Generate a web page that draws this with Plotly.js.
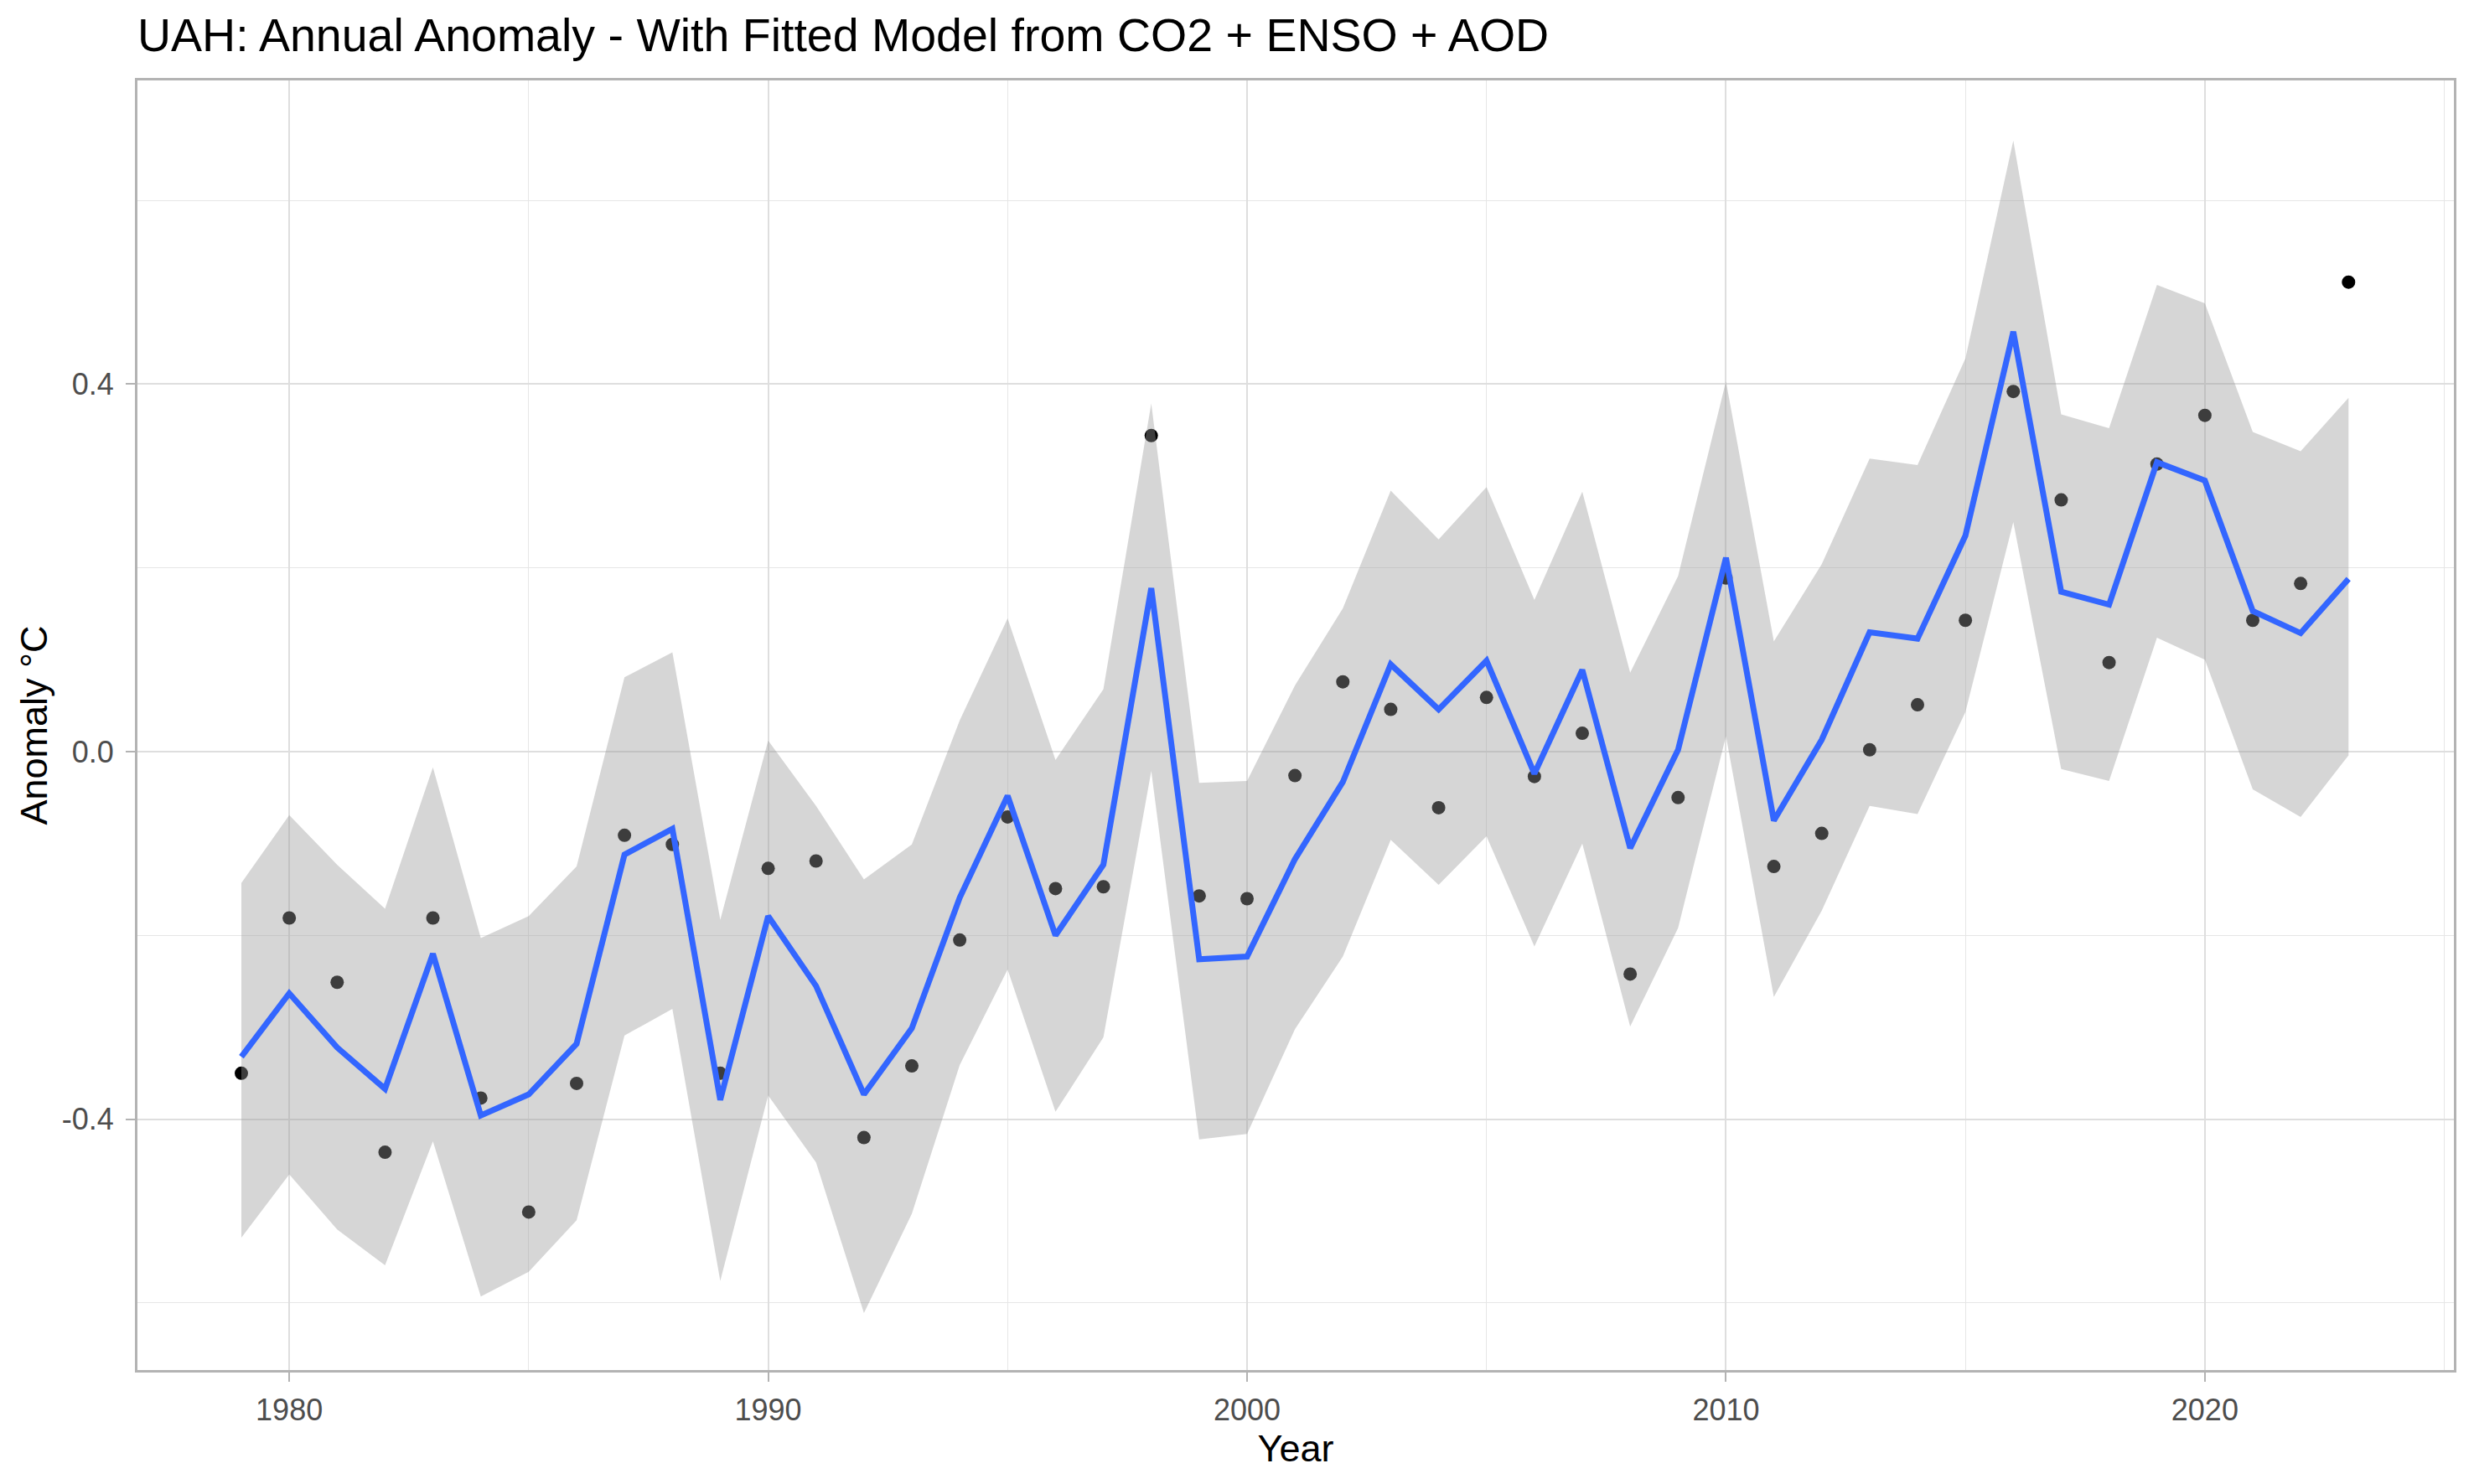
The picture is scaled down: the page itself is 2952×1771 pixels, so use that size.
<!DOCTYPE html>
<html>
<head>
<meta charset="utf-8">
<script src="https://cdn.plot.ly/plotly-3.0.1.min.js"></script>
<style>
html,body{margin:0;padding:0;background:#fff;}
#chart{width:2952px;height:1771px;}
</style>
</head>
<body>
<div id="chart"></div>
<script>
const years = [1979,1980,1981,1982,1983,1984,1985,1986,1987,1988,1989,1990,1991,1992,1993,1994,1995,1996,1997,1998,1999,2000,2001,2002,2003,2004,2005,2006,2007,2008,2009,2010,2011,2012,2013,2014,2015,2016,2017,2018,2019,2020,2021,2022,2023];

const observed = [-0.350,-0.181,-0.251,-0.436,-0.181,-0.377,-0.501,-0.361,-0.091,-0.101,
  -0.350,-0.127,-0.119,-0.420,-0.342,-0.205,-0.071,-0.149,-0.147,0.344,
  -0.157,-0.160,-0.026,0.076,0.046,-0.061,0.059,-0.027,0.020,-0.242,
  -0.050,0.189,-0.125,-0.089,0.002,0.051,0.143,0.392,0.274,0.097,
  0.313,0.366,0.143,0.183,0.511];

const fitted = [-0.332,-0.263,-0.322,-0.367,-0.220,-0.396,-0.373,-0.318,-0.112,-0.084,
  -0.379,-0.179,-0.255,-0.373,-0.301,-0.159,-0.048,-0.200,-0.123,0.178,
  -0.226,-0.223,-0.117,-0.033,0.095,0.046,0.099,-0.024,0.089,-0.105,
  0.002,0.211,-0.075,0.013,0.130,0.123,0.235,0.457,0.174,0.160,
  0.315,0.295,0.153,0.129,0.188];

const upper = [-0.143,-0.069,-0.123,-0.171,-0.017,-0.203,-0.179,-0.125,0.081,0.108,
  -0.183,0.012,-0.059,-0.139,-0.101,0.034,0.145,-0.009,0.068,0.379,
  -0.034,-0.032,0.072,0.156,0.284,0.231,0.288,0.165,0.283,0.086,
  0.191,0.403,0.120,0.204,0.319,0.312,0.428,0.665,0.367,0.352,
  0.508,0.488,0.348,0.327,0.385];

const lower = [-0.529,-0.460,-0.520,-0.559,-0.424,-0.593,-0.566,-0.510,-0.309,-0.280,
  -0.576,-0.374,-0.447,-0.611,-0.503,-0.341,-0.237,-0.392,-0.311,-0.021,
  -0.422,-0.416,-0.302,-0.223,-0.096,-0.145,-0.092,-0.212,-0.100,-0.299,
  -0.192,0.017,-0.267,-0.173,-0.059,-0.068,0.043,0.250,-0.019,-0.032,
  0.124,0.100,-0.041,-0.071,-0.004];

const xTickVals = [1980,1990,2000,2010,2020];
const xTickText = ["1980","1990","2000","2010","2020"];
const xMinorVals = [1975,1985,1995,2005,2015,2025];
const yTickVals = [-0.4,0.0,0.4];
const yTickText = ["-0.4","0.0","0.4"];
const yMinorVals = [-0.6,-0.2,0.2,0.6];

const FONT = "Liberation Sans, Arial, Helvetica, sans-serif";

const traces = [
  {
    x: years, y: observed, type: 'scatter', mode: 'markers',
    marker: {color: '#000000', size: 16, line: {width: 0}},
    hoverinfo: 'x+y', showlegend: false
  },
  {
    x: years, y: lower, type: 'scatter', mode: 'lines',
    line: {width: 0, color: 'rgba(0,0,0,0)'},
    hoverinfo: 'skip', showlegend: false
  },
  {
    x: years, y: upper, type: 'scatter', mode: 'lines',
    line: {width: 0, color: 'rgba(0,0,0,0)'},
    fill: 'tonexty', fillcolor: 'rgba(153,153,153,0.4)',
    hoverinfo: 'skip', showlegend: false
  },
  {
    x: years, y: fitted, type: 'scatter', mode: 'lines',
    line: {color: '#3366FF', width: 7},
    hoverinfo: 'x+y', showlegend: false
  }
];

const layout = {
  width: 2952, height: 1771,
  paper_bgcolor: '#FFFFFF', plot_bgcolor: '#FFFFFF',
  margin: {l: 164, r: 24, t: 96, b: 136, pad: 0},
  font: {family: FONT, color: '#000000'},
  showlegend: false,
  title: {
    text: 'UAH: Annual Anomaly - With Fitted Model from CO2 + ENSO + AOD',
    font: {family: FONT, size: 55.5, color: '#000000'},
    x: 164/2952, xref: 'container', xanchor: 'left',
    y: 1 - 42/1771, yref: 'container', yanchor: 'middle'
  },
  xaxis: {
    range: [1976.83, 2025.2],
    tickmode: 'array', tickvals: xTickVals, ticktext: xTickText,
    ticks: 'outside', ticklen: 11, tickwidth: 2, tickcolor: '#B3B3B3',
    tickfont: {family: FONT, size: 36, color: '#4D4D4D'},
    ticklabelstandoff: 3,
    showgrid: true, gridcolor: '#DEDEDE', gridwidth: 2,
    minor: {tickmode: 'array', tickvals: xMinorVals, showgrid: true, gridcolor: '#E6E6E6', gridwidth: 1, ticks: ''},
    zeroline: false,
    showline: true, linecolor: '#B3B3B3', linewidth: 3, mirror: true,
    title: {text: 'Year', font: {family: FONT, size: 45, color: '#000000'}, standoff: 4}
  },
  yaxis: {
    range: [-0.673, 0.7305],
    tickmode: 'array', tickvals: yTickVals, ticktext: yTickText,
    ticks: 'outside', ticklen: 11, tickwidth: 2, tickcolor: '#B3B3B3',
    tickfont: {family: FONT, size: 36, color: '#4D4D4D'},
    ticklabelstandoff: 7,
    showgrid: true, gridcolor: '#DEDEDE', gridwidth: 2,
    minor: {tickmode: 'array', tickvals: yMinorVals, showgrid: true, gridcolor: '#E6E6E6', gridwidth: 1, ticks: ''},
    zeroline: false,
    showline: true, linecolor: '#B3B3B3', linewidth: 3, mirror: true,
    title: {text: 'Anomaly °C', font: {family: FONT, size: 45, color: '#000000'}, standoff: 4}
  }
};

Plotly.newPlot('chart', traces, layout, {displayModeBar: false, staticPlot: true});
</script>
</body>
</html>
